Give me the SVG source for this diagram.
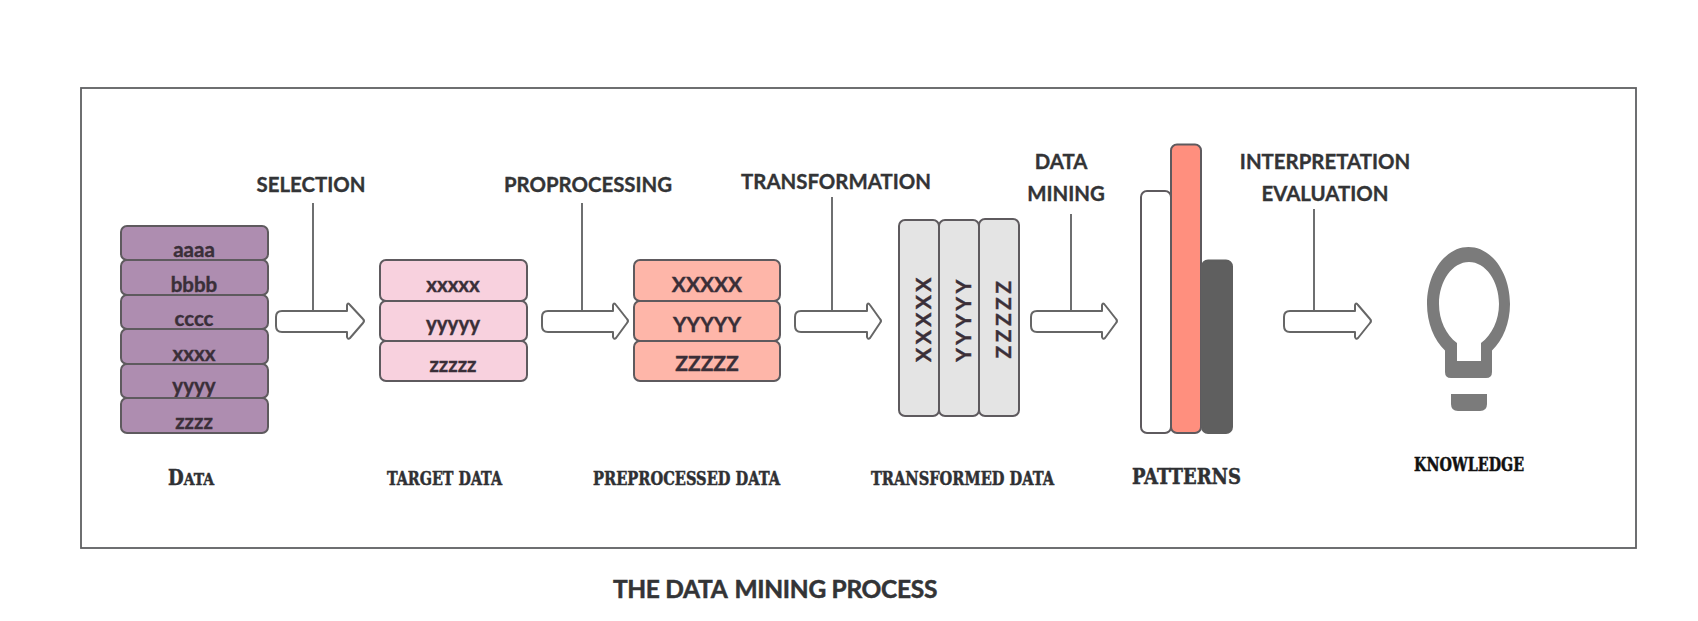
<svg xmlns="http://www.w3.org/2000/svg" width="1698" height="621" viewBox="0 0 1698 621">
<style>
.lb{font-family:"Lato","Liberation Sans",sans-serif;font-weight:700;font-size:20.400px;fill:#333436;stroke:#333436;stroke-width:.35;text-anchor:middle}
.cell{font-family:"Lato","Liberation Sans",sans-serif;font-weight:700;font-size:20.500px;fill:#3a2f38;stroke:#3a2f38;stroke-width:.4;text-anchor:middle}
.v{letter-spacing:3.500px;font-size:21px}
.sl{font-family:"DejaVu Serif","Liberation Serif",serif;font-weight:700;font-stretch:condensed;fill:#2f3033;stroke:#2f3033;stroke-width:.5}
.r{stroke:#5e5a5e;stroke-width:2}
.p{fill:#ae8db0}.k{fill:#f8d1de}.s{fill:#feb6a9}.g{fill:#e4e4e4}
.ln{stroke:#5f6062;stroke-width:1.800;fill:none}
.ar{fill:#fff;stroke:#666;stroke-width:2;stroke-linejoin:round}
</style>
<rect width="1698" height="621" fill="#fff"/>
<rect id="frame" x="81" y="88" width="1555" height="460" fill="#fff" stroke="#5f6062" stroke-width="1.800"/>
<g id="data">
<rect class="r p" x="121" y="226" width="147" height="34" rx="6"/><text class="cell" x="194" y="257">aaaa</text>
<rect class="r p" x="121" y="260" width="147" height="35" rx="6"/><text class="cell" x="194" y="292">bbbb</text>
<rect class="r p" x="121" y="295" width="147" height="34" rx="6"/><text class="cell" x="194" y="326">cccc</text>
<rect class="r p" x="121" y="329" width="147" height="35" rx="6"/><text class="cell" x="194" y="361">xxxx</text>
<rect class="r p" x="121" y="364" width="147" height="34" rx="6"/><text class="cell" x="194" y="393">yyyy</text>
<rect class="r p" x="121" y="398" width="147" height="35" rx="6"/><text class="cell" x="194" y="429">zzzz</text>
<text class="sl" x="168" y="485" font-size="22" textLength="46" lengthAdjust="spacingAndGlyphs">D<tspan font-size="17">ATA</tspan></text>
</g>
<g id="target">
<rect class="r k" x="380" y="260" width="147" height="41" rx="6"/><text class="cell" x="453" y="292">xxxxx</text>
<rect class="r k" x="380" y="301" width="147" height="40" rx="6"/><text class="cell" x="453" y="331">yyyyy</text>
<rect class="r k" x="380" y="341" width="147" height="40" rx="6"/><text class="cell" x="453" y="372">zzzzz</text>
<text class="sl" x="387" y="485" font-size="19" textLength="115" lengthAdjust="spacingAndGlyphs">TARGET DATA</text>
</g>
<g id="preprocessed">
<rect class="r s" x="634" y="260" width="146" height="41" rx="6"/><text class="cell" x="707" y="292" style="font-size:21px">XXXXX</text>
<rect class="r s" x="634" y="301" width="146" height="40" rx="6"/><text class="cell" x="707" y="332" style="font-size:21px">YYYYY</text>
<rect class="r s" x="634" y="341" width="146" height="40" rx="6"/><text class="cell" x="707" y="371" style="font-size:21px">ZZZZZ</text>
<text class="sl" x="593" y="485" font-size="19" textLength="187" lengthAdjust="spacingAndGlyphs">PREPROCESSED DATA</text>
</g>
<g id="transformed">
<rect class="r g" x="899" y="220" width="40" height="196" rx="6"/><text class="cell v" transform="translate(931,318) rotate(-90)">XXXXX</text>
<rect class="r g" x="939" y="220" width="40" height="196" rx="6"/><text class="cell v" transform="translate(971,319) rotate(-90)">YYYYY</text>
<rect class="r g" x="979" y="219" width="40" height="197" rx="6"/><text class="cell v" transform="translate(1011,318) rotate(-90)">ZZZZZ</text>
<text class="sl" x="871" y="485" font-size="19" textLength="183" lengthAdjust="spacingAndGlyphs">TRANSFORMED DATA</text>
</g>
<g id="patterns">
<rect x="1141" y="191" width="30" height="242" rx="6" fill="#fff" class="r"/>
<rect x="1171" y="144.500" width="30" height="288.500" rx="6" fill="#ff8f7e" class="r"/>
<rect x="1202" y="260.500" width="30" height="172.500" rx="6" fill="#5f5f5f" stroke="#5f5f5f" stroke-width="2"/>
<text class="sl" x="1132" y="484" font-size="23" textLength="109" lengthAdjust="spacingAndGlyphs">PATTERNS</text>
</g>
<g id="knowledge">
<path fill="#7b7b7b" fill-rule="evenodd" d="M1445 350.500C1434 340 1427 323 1427 304C1427 272.500 1445.600 247 1468.500 247C1491.400 247 1510 272.500 1510 304C1510 323 1503 340 1492 350.500V372Q1492 378 1486 378H1451Q1445 378 1445 372ZM1457 343V361H1481V343C1492 335 1499 320 1499 304C1499 280.800 1485.500 262 1469 262C1452.500 262 1439 280.800 1439 304C1439 320 1446 335 1457 343Z"/>
<path fill="#7b7b7b" d="M1451 394H1487V404Q1487 411 1480 411H1458Q1451 411 1451 404Z"/>
<text class="sl" x="1414" y="471" font-size="19" style="fill:#111;stroke:#111" textLength="110" lengthAdjust="spacingAndGlyphs">KNOWLEDGE</text>
</g>
<g id="connectors">
<path class="ln" d="M313 203V311M582 203V311M832 197V311M1071 214V311M1314 209V311"/>
<path class="ar" d="M282 311H347L347 305Q348 302 350 305L363 319Q365 321 363 323L350 338Q348 340 347 337L347 332H282Q276 332 276 326V317Q276 311 282 311Z"/>
<path class="ar" d="M548 311H613L613 305Q614 302 616 305L627 319Q629 321 627 323L616 338Q614 340 613 337L613 332H548Q542 332 542 326V317Q542 311 548 311Z"/>
<path class="ar" d="M801 311H867L867 305Q868 302 870 305L880 319Q882 321 880 323L870 338Q868 340 867 337L867 332H801Q795 332 795 326V317Q795 311 801 311Z"/>
<path class="ar" d="M1037 311H1102L1102 305Q1103 302 1105 305L1116 319Q1118 321 1116 323L1105 338Q1103 340 1102 337L1102 332H1037Q1031 332 1031 326V317Q1031 311 1037 311Z"/>
<path class="ar" d="M1290 311H1355L1355 305Q1356 302 1358 305L1370 319Q1372 321 1370 323L1358 338Q1356 340 1355 337L1355 332H1290Q1284 332 1284 326V317Q1284 311 1290 311Z"/>
</g>
<g id="labels">
<text class="lb" x="311" y="192">SELECTION</text>
<text class="lb" x="588" y="192">PROPROCESSING</text>
<text class="lb" x="836" y="189">TRANSFORMATION</text>
<text class="lb" x="1061" y="169">DATA</text>
<text class="lb" x="1066" y="201">MINING</text>
<text class="lb" x="1325" y="168.500">INTERPRETATION</text>
<text class="lb" x="1325" y="201">EVALUATION</text>
<text class="lb" x="775" y="598" style="font-size:24.500px;letter-spacing:-.3px;stroke-width:.5">THE DATA<tspan dx="7">MINING PROCESS</tspan></text>
</g>
</svg>
